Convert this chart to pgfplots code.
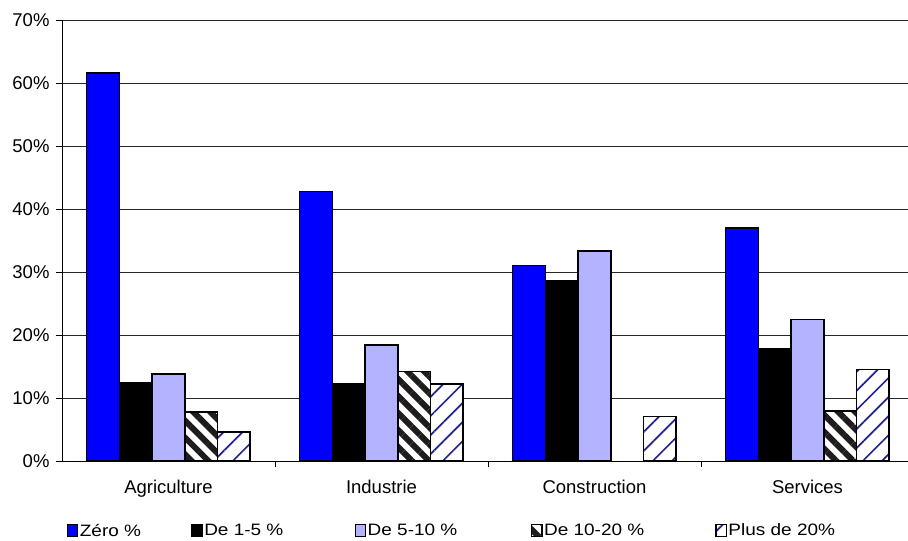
\documentclass[border=0pt]{standalone}
\usepackage{fontspec}
\setmainfont{Liberation Sans}
\newfontfamily\legfont{Liberation Sans}[FakeStretch=1.15]
\usepackage{pgfplots}
\pgfplotsset{compat=1.18}
\usetikzlibrary{patterns.meta}
\definecolor{zero}{RGB}{0,0,255}
\definecolor{lav}{RGB}{179,179,255}
\definecolor{hatchblue}{RGB}{35,35,140}
\definecolor{stripe}{RGB}{30,28,28}
\begin{document}
\begin{tikzpicture}
\begin{axis}[
  at={(62pt,80pt)}, anchor=south west,
  scale only axis, width=846pt, height=441pt,
  xmin=-0.5, xmax=3.472, ymin=0, ymax=70,
  axis x line*=bottom, axis y line*=left,
  axis line style={black, line width=0.8pt},
  ytick={0,10,...,70},
  yticklabel={\pgfmathprintnumber{\tick}\%},
  xtick={0,1,2,3},
  xticklabels={Agriculture,Industrie,Construction,Services},
  minor xtick={0.5,1.5,2.5},
  tick align=outside,
  major tick length=6pt, minor tick length=6pt,
  every tick/.style={black, line width=0.8pt},
  major x tick style={draw=none},
  ymajorgrids, major grid style={black!85, line width=0.8pt},
  ticklabel style={font=\fontsize{18.5}{21}\selectfont},
  yticklabel style={xshift=-3pt},
  xticklabel style={yshift=-10pt},
  /pgf/number format/assume math mode=true,
  ybar=0pt, bar width=32.7pt,
  legend columns=5,
  legend style={at={(axis description cs:0.0059,-0.158)}, anchor=west, draw=none, fill=none, inner sep=0pt, outer sep=0pt,
    font=\legfont\fontsize{16.5}{19}\selectfont,
    nodes={inner sep=1.5pt},
    /tikz/every even column/.append style={column sep=0pt}},
  legend image code/.code={\draw[#1, line width=0.9pt] (0pt,-6pt) rectangle (10.5pt,6pt);},
]
\addplot[fill=zero, draw=black, line width=1.5pt] coordinates {(0,61.6) (1,42.8) (2,31.0) (3,37.0)};
\addplot[fill=black, draw=black, line width=1.5pt] coordinates {(0,12.4) (1,12.3) (2,28.6) (3,17.8)};
\addplot[fill=lav, draw=black, line width=1.5pt] coordinates {(0,13.8) (1,18.4) (2,33.3) (3,22.5)};
\addplot[preaction={fill=white}, pattern={Lines[angle=-45,distance=12pt,line width=6pt]}, pattern color=stripe, draw=black, line width=1.5pt] coordinates {(0,7.8) (1,14.2) (3,7.9)};
\addplot[preaction={fill=white}, pattern={Lines[angle=45,distance=13.5pt,line width=1.7pt]}, pattern color=hatchblue, draw=black, line width=1.5pt] coordinates {(0,4.6) (1,12.2) (2,7.1) (3,14.5)};
\legend{\makebox[110pt][l]{Zéro \%},\makebox[149pt][l]{De 1-5 \%},\makebox[162pt][l]{De 5-10 \%},\makebox[170pt][l]{De 10-20 \%},Plus de 20\%}
\end{axis}
\pgfresetboundingbox
\path (0,0) rectangle (908pt,541pt);
\end{tikzpicture}
\end{document}
